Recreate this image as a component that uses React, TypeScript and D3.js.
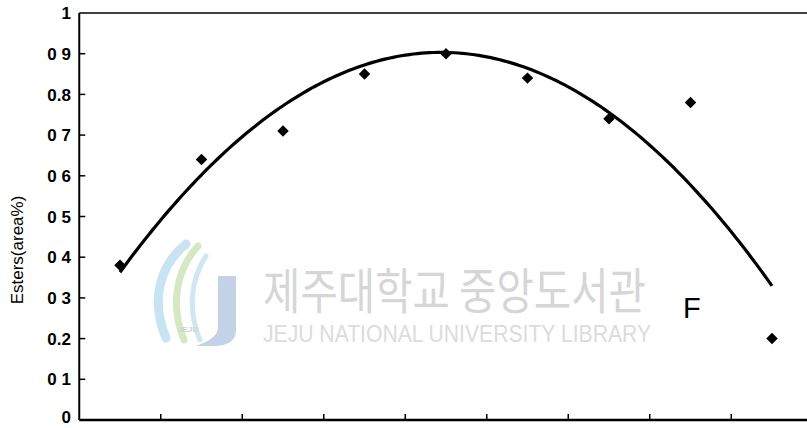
import React from "react";
import * as d3 from "d3";

// Sample positions along the x axis (unlabelled categories)
const samples = ["1", "2", "3", "4", "5", "6", "7", "8", "9"];
// Measured ester content (area %)
const esters = [0.38, 0.64, 0.71, 0.85, 0.9, 0.84, 0.74, 0.78, 0.2];
// Y tick values and their printed labels
const yTicks = [0, 0.1, 0.2, 0.3, 0.4, 0.5, 0.6, 0.7, 0.8, 0.9, 1];
const yTickLabels = ["0", "0 1", "0.2", "0 3", "0 4", "0 5", "0 6", "0 7", "0.8", "0 9", "1"];
const panelLabel = "F";
const yTitle = "Esters(area%)";
const watermarkKo = "제주대학교 중앙도서관";
const watermarkEn = "JEJU NATIONAL UNIVERSITY  LIBRARY";

const W = 807;
const H = 428;
const left = 79.25;
const right = 812.75;
const top = 13;
const bottom = 420;

// Least-squares quadratic fit (polynomial trendline of order 2)
function quadFit(ys: number[]) {
  let s0 = 0, s1 = 0, s2 = 0, s3 = 0, s4 = 0, t0 = 0, t1 = 0, t2 = 0;
  ys.forEach((y, i) => {
    s0 += 1; s1 += i; s2 += i * i; s3 += i ** 3; s4 += i ** 4;
    t0 += y; t1 += i * y; t2 += i * i * y;
  });
  const M = [
    [s0, s1, s2, t0],
    [s1, s2, s3, t1],
    [s2, s3, s4, t2],
  ];
  for (let c = 0; c < 3; c++) {
    for (let r = c + 1; r < 3; r++) {
      const f = M[r][c] / M[c][c];
      for (let k = c; k < 4; k++) M[r][k] -= f * M[c][k];
    }
  }
  const coef = [0, 0, 0];
  for (let r = 2; r >= 0; r--) {
    let s = M[r][3];
    for (let k = r + 1; k < 3; k++) s -= M[r][k] * coef[k];
    coef[r] = s / M[r][r];
  }
  return (t: number) => coef[0] + coef[1] * t + coef[2] * t * t;
}

export default function App() {
  const x = d3.scalePoint<string>().domain(samples).range([left, right]).padding(0.5);
  const step = x.step();
  const y = d3.scaleLinear().domain([0, 1]).range([bottom, top]);

  const fit = quadFit(esters);
  const trend = d3.range(0, samples.length - 1 + 1e-9, 0.05).map((t) => [
    (x(samples[0]) as number) + t * step,
    y(fit(t)),
  ] as [number, number]);
  const line = d3.line().curve(d3.curveLinear)(trend) || "";

  const diamond = d3.symbol().type(d3.symbolSquare).size(66)() || "";
  const boundaries = d3.range(1, samples.length).map((i) => left + i * step);

  return (
    <svg
      width={W}
      height={H}
      style={{ position: "absolute", left: 0, top: 0, background: "#fff" }}
      fontFamily="'Liberation Sans', Arial, sans-serif"
    >
      {/* watermark */}
      <g opacity={0.85}>
        <path d="M186,244 C160,265 150,300 166,338" stroke="#bfe0f2" strokeWidth={9} fill="none" strokeLinecap="round" />
        <path d="M198,246 C176,270 170,305 184,340" stroke="#cfe5b8" strokeWidth={7} fill="none" strokeLinecap="round" />
        <path d="M206,256 C190,280 188,312 200,340" stroke="#c8e2f0" strokeWidth={5} fill="none" strokeLinecap="round" />
        <path d="M218,276 L236,276 L236,330 C236,342 226,346 214,346 L196,346 C206,342 218,338 218,326 Z" fill="#b9cbe3" />
        <text x={188} y={332} fontSize={8} fill="#c9c9c9" textAnchor="middle" fontWeight="bold">JEJU</text>
        <text x={263} y={309} fontSize={49} fill="#cfcfcf" textLength={383} lengthAdjust="spacingAndGlyphs"
          fontFamily="'Noto Sans CJK KR', sans-serif">{watermarkKo}</text>
        <text x={263} y={342} fontSize={23} fill="#d6d6d6" textLength={388} lengthAdjust="spacingAndGlyphs">{watermarkEn}</text>
      </g>

      {/* frame: top border, left and bottom axes */}
      <line x1={left} x2={W} y1={top} y2={top} stroke="#000" strokeWidth={1.5} />
      <line x1={left} x2={left} y1={top} y2={bottom} stroke="#000" strokeWidth={2} />
      <line x1={left} x2={W} y1={bottom} y2={bottom} stroke="#000" strokeWidth={2.5} />

      {/* y ticks and labels */}
      {yTicks.map((v, i) => (
        <g key={v}>
          {i > 0 && i < yTicks.length - 1 && (
            <line x1={left} x2={left + 6} y1={y(v)} y2={y(v)} stroke="#000" strokeWidth={1.5} />
          )}
          <text x={71} y={Math.min(y(v), 417)} dy="0.36em" textAnchor="end" fontSize={17} fontWeight="bold" fill="#000">
            {yTickLabels[i]}
          </text>
        </g>
      ))}

      {/* x ticks at category boundaries */}
      {boundaries.map((bx) => (
        <line key={bx} x1={bx} x2={bx} y1={bottom} y2={bottom - 6} stroke="#000" strokeWidth={1.5} />
      ))}

      {/* y axis title */}
      <text transform={`translate(23,250) rotate(-90)`} textAnchor="middle" fontSize={17} fill="#000">
        {yTitle}
      </text>

      {/* trendline */}
      <path d={line} fill="none" stroke="#000" strokeWidth={3.2} strokeLinejoin="round" />

      {/* data points */}
      {esters.map((v, i) => (
        <path key={i} d={diamond} transform={`translate(${x(samples[i])},${y(v)}) rotate(45)`} fill="#000" />
      ))}

      <text x={683} y={318} fontSize={29} fill="#000">{panelLabel}</text>
    </svg>
  );
}
